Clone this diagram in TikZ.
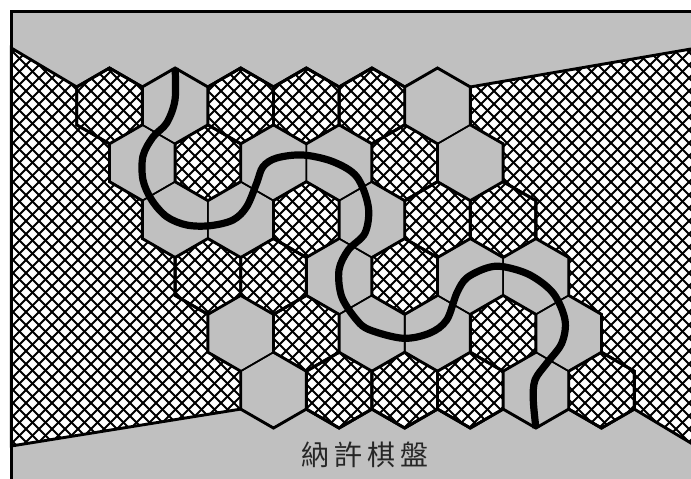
\documentclass[tikz,border=0pt]{standalone}
\usepackage{fontspec}
\newfontfamily\cjk{Noto Sans CJK TC}
\definecolor{boardgrey}{HTML}{C0C0C0}
\tikzset{
  thinedge/.style={line width=1.6pt},
  thickedge/.style={line width=2.9pt},
  hatchline/.style={line width=2pt},
  pathcurve/.style={line width=7.2pt},
  framestyle/.style={line width=2.8pt},
}
% hexagon of row #1, column #2 (pointy top)
\newcommand\hexat[2]{({109.5+(#1-1)*32.8+(#2-1)*65.6},{68+(#1-1)*56.85}) -- ++(32.8,18.95) -- ++(0,37.9) -- ++(-32.8,18.95) -- ++(-32.8,-18.95) -- ++(0,-37.9) -- cycle}
\newcommand\leftregion{(11.3,48) -- (76.7,86.95) -- (76.7,124.85) -- (109.5,143.8) -- (109.5,181.7) -- (142.3,200.65) -- (142.3,238.55) -- (175.1,257.5) -- (175.1,295.4) -- (207.9,314.35) -- (207.9,352.25) -- (240.7,371.2) -- (240.7,409.1) -- (11.3,446) -- cycle}
\newcommand\rightregion{(470.3,86.95) -- (720,44) -- (720,460.5) -- (634.3,409.1) -- (634.3,371.2) -- (601.5,352.25) -- (601.5,314.35) -- (568.7,295.4) -- (568.7,257.5) -- (535.9,238.55) -- (535.9,200.65) -- (503.1,181.7) -- (503.1,143.8) -- (470.3,124.85) -- cycle}
\begin{document}
\begin{tikzpicture}[x=1pt,y=-1pt]
\useasboundingbox (0,0) rectangle (691,479);
\clip (0,0) rectangle (691,479);
\fill[white] (0,0) rectangle (691,479);
\fill[boardgrey] (11.3,11.3) rectangle (720,520);
% hatched areas
\begin{scope}
  \clip \leftregion \rightregion
    \foreach \r/\c in {1/1,1/3,1/4,1/5,2/2,2/5,3/3,3/5,3/6,4/1,4/2,4/4,5/2,5/5,6/2,6/3,6/4,6/6} {\hexat{\r}{\c}};
  \fill[white] (0,0) rectangle (691,479);
  \foreach \k in {0,...,93} {
    \draw[hatchline] ({13*\k},0) -- ({13*\k-520},520);
    \draw[hatchline] ({13*\k-520},0) -- ({13*\k},520);
  }
\end{scope}
% all cell edges (thin)
\foreach \r in {1,...,6} {
  \foreach \c in {1,...,6} {
    \draw[thinedge] \hexat{\r}{\c};
  }
}
% hatched cells outlined thick
\foreach \r/\c in {1/1,1/3,1/4,1/5,2/2,2/5,3/3,3/5,3/6,4/1,4/2,4/4,5/2,5/5,6/2,6/3,6/4,6/6} {
  \draw[thickedge] \hexat{\r}{\c};
}
\draw[thickedge] \leftregion;
\draw[thickedge] \rightregion;
% board top and bottom outlines
\draw[thickedge] (76.7,86.95) \foreach \k in {0,...,5} { -- ({109.5+65.6*\k},68) -- ({142.3+65.6*\k},86.95) };
\draw[thickedge] (240.7,409.1) \foreach \k in {0,...,5} { -- ({273.5+65.6*\k},428.05) -- ({306.3+65.6*\k},409.1) };
% winning path
\draw[pathcurve] plot[smooth, tension=0.55] coordinates {
  (175.1,68) (175,100) (166.7,123) (153,137) (143,156) (143,180) (151.7,200)
  (166.7,216.7) (186.7,225) (210,225.7) (233,220) (246.7,206.7) (256.7,183)
  (263,166.7) (276.7,158) (303,155) (333,161.7) (356.7,176.7) (368.3,206.7)
  (365,233) (348.3,250) (339,270) (341.7,296.7) (356.7,320) (370,330)
  (403.3,338.3) (430,333) (446.7,320) (456.7,293.3) (466.7,278) (486.7,268)
  (503.3,266.7) (530,275) (553.3,293.3) (565,320) (561.7,343.3) (546.7,363.3)
  (535,380) (533.3,400) (535.9,428)};
% frame
\draw[framestyle] (11.3,520) -- (11.3,11.3) -- (720,11.3);
% caption
\node[text=black!85, inner sep=0pt] (title) at (365,455) {\cjk\fontsize{28}{30}\selectfont 納\hspace{5pt}許\hspace{5pt}棋\hspace{5pt}盤};
\end{tikzpicture}
\end{document}
